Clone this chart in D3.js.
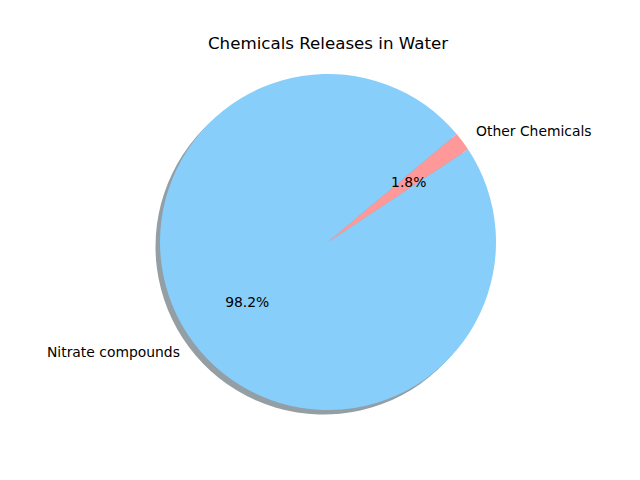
<!DOCTYPE html>
<html><head><meta charset="utf-8">
<script src="https://cdn.jsdelivr.net/npm/d3@7"></script>
<style>body{margin:0;background:#fff}svg{display:block}text{font-family:"DejaVu Sans",sans-serif}</style>
</head><body>
<svg id="c" width="640" height="480"></svg>
<script>
const categories = ["Nitrate compounds", "Other Chemicals"];
const values = [98.2, 1.8];
const colors = ["#87CEFA", "#FF9999"];
const title = "Chemicals Releases in Water";

const svg = d3.select("#c");
const cx = 328, cy = 242, R = 168;
const startDeg = 40;

svg.append("text").attr("x", 328).attr("y", 49).attr("text-anchor", "middle")
  .attr("font-size", 16.67).attr("fill", "#000").text(title);

const toD3 = deg => (90 - deg) * Math.PI / 180;
const total = d3.sum(values);
const angScale = d3.scaleLinear().domain([0, total]).range([0, 360]);
let acc = 0;
const slices = values.map((v, i) => {
  const a0 = startDeg + angScale(acc);
  acc += v;
  const a1 = startDeg + angScale(acc);
  return {i, v, a0, a1};
});

const arc = d3.arc().innerRadius(0).outerRadius(R);
const sh = svg.append("g").attr("transform", `translate(${cx - 4.5},${cy + 4.5})`);
const g = svg.append("g").attr("transform", `translate(${cx},${cy})`);
slices.forEach(s => {
  const c = d3.rgb(colors[s.i]);
  sh.append("path")
    .attr("d", arc({startAngle: toD3(s.a1), endAngle: toD3(s.a0)}))
    .attr("fill", d3.rgb(c.r * 0.3, c.g * 0.3, c.b * 0.3))
    .attr("fill-opacity", 0.5);
});
slices.forEach(s => {
  g.append("path")
    .attr("d", arc({startAngle: toD3(s.a1), endAngle: toD3(s.a0)}))
    .attr("fill", colors[s.i]);
});
slices.forEach(s => {
  const mid = (s.a0 + s.a1) / 2 * Math.PI / 180;
  const lx = cx + 1.1 * R * Math.cos(mid), ly = cy - 1.1 * R * Math.sin(mid);
  svg.append("text").attr("x", lx).attr("y", ly).attr("dy", "0.35em")
    .attr("text-anchor", Math.cos(mid) > 0 ? "start" : "end")
    .attr("font-size", 13.9).attr("fill", "#000").text(categories[s.i]);
  const px = cx + 0.6 * R * Math.cos(mid), py = cy - 0.6 * R * Math.sin(mid);
  svg.append("text").attr("x", px).attr("y", py).attr("dy", "0.35em")
    .attr("text-anchor", "middle")
    .attr("font-size", 13.9).attr("fill", "#000").text(d3.format(".1f")(s.v / total * 100) + "%");
});
</script>
</body></html>
